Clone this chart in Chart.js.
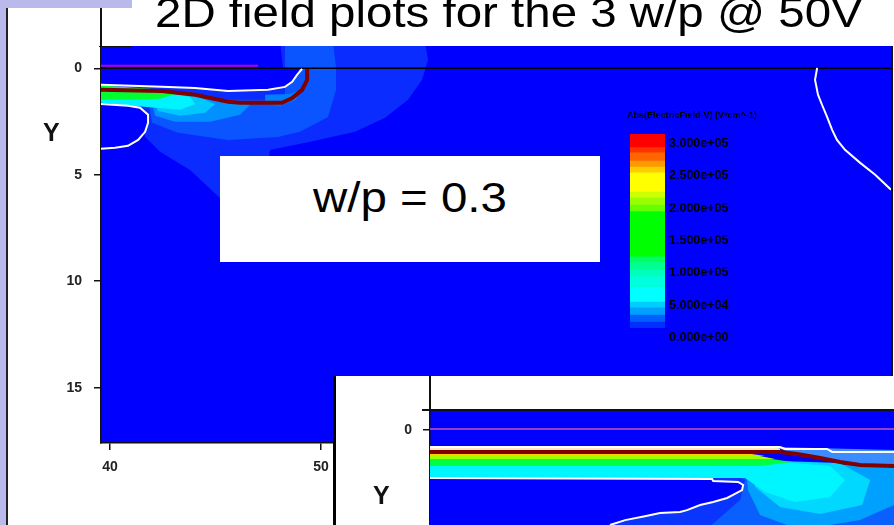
<!DOCTYPE html>
<html>
<head>
<meta charset="utf-8">
<script src="https://cdn.jsdelivr.net/npm/chart.js@4.4.0/dist/chart.umd.min.js"></script>
<style>
  html, body { margin: 0; padding: 0; background: #fff; }
  body { width: 894px; height: 525px; position: relative; overflow: hidden; font-family: "Liberation Sans", Arial, sans-serif; }
  .abs { position: absolute; }
  .big { font-size: 42px; line-height: 42px; color: #000; white-space: nowrap; transform: scaleX(1.13); transform-origin: left top; }
  .ylab { font-size: 25px; line-height: 25px; font-weight: bold; color: #111; }
  .cblab { font-size: 12.5px; line-height: 14px; color: #000; font-weight: bold; white-space: nowrap; }
</style>
</head>
<body>
<!-- slide frame -->
<div class="abs" style="left:0;top:0;width:6px;height:525px;background:#b9b9eb"></div>
<div class="abs" style="left:0;top:0;width:132px;height:8px;background:#b9b9eb"></div>
<div class="abs" style="left:6px;top:8px;width:1.5px;height:517px;background:#222"></div>

<canvas id="main" class="abs" width="894" height="525" style="left:0;top:0"></canvas>
<div class="abs" style="left:100.3px;top:8px;width:1.5px;height:39px;background:#111"></div>
<div class="abs" style="left:99px;top:45.5px;width:33px;height:1.5px;background:#111"></div>
<div class="abs" style="left:891px;top:46px;width:2px;height:330px;background:#111"></div>

<div class="abs big" style="left:155px;top:-8px">2D field plots for the 3 w/p @ 50V</div>
<div class="abs ylab" style="left:43px;top:120px">Y</div>

<div class="abs" style="left:220px;top:156px;width:380px;height:106px;background:#fff"></div>
<div class="abs big" style="left:313px;top:177px">w/p = 0.3</div>

<div class="abs" style="left:627px;top:110px;font-size:9px;line-height:10px;font-weight:bold;color:#000;white-space:nowrap">Abs(ElectricField-V) (V*cm^-1)</div>
<canvas id="cb" class="abs" width="35" height="194" style="left:630px;top:134px"></canvas>
<div id="cblabels"></div>

<div class="abs" style="left:333px;top:376px;width:561px;height:149px;background:#fff"></div>
<div class="abs" style="left:333px;top:376px;width:3px;height:149px;background:#000"></div>
<canvas id="inset" class="abs" width="558" height="149" style="left:336px;top:376px"></canvas>
<div class="abs" style="left:429.3px;top:376px;width:1.5px;height:35px;background:#111"></div>
<div class="abs" style="left:422px;top:409.3px;width:472px;height:1.5px;background:#111"></div>
<div class="abs ylab" style="left:373px;top:483px">Y</div>

<script>
// ---------- axes ----------
const xTicks = [40, 50];
const yTicks = [0, 5, 10, 15];
const insetYTicks = [0];

// ---------- colour scale ----------
const blue = '#0000ff';
const cbEdges = [14000, 23000, 34000, 45000, 54000, 77000, 93000, 104000, 115000, 124000,
                 194000, 204000, 215000, 224000, 254000, 263000, 272000, 285000, 293000, 314000];
const cbColors = ['#0030ff', '#0060ff', '#00a0ff', '#00ccff', '#00ffff', '#00ffdd', '#00ffbb', '#00ff90', '#00ff60',
                  '#00ff00', '#66ff00', '#99ff00', '#ccff00', '#ffff00', '#ffcc00', '#ff9900', '#ff6600', '#ff3300', '#ff0000'];
const cbTickValues = [300000, 250000, 200000, 150000, 100000, 50000, 0];
const cbTickLabels = ['3.000e+05', '2.500e+05', '2.000e+05', '1.500e+05', '1.000e+05', '5.000e+04', '0.000e+00'];

// ---------- w/p = 0.3 plot ----------
const surfaceX = [39.57, 47.01];
const surfaceY = [-0.12, -0.12];
const zeroX = [39.57, 77.01];
const zeroY = [0, 0];
const junctionX = [39.57, 42.46, 44.03, 45.59, 46.16, 48.15, 48.63, 49.1, 49.34, 49.34];
const junctionY = [1.01, 1.06, 1.24, 1.57, 1.62, 1.62, 1.39, 1.01, 0.54, 0.02];
const depTopX = [39.57, 42.46, 44.03, 45.59, 47.49, 48.29, 48.63, 48.86, 49.1];
const depTopY = [0.77, 0.87, 0.92, 1.06, 1.01, 0.87, 0.63, 0.31, 0.02];
const depBulbX = [39.57, 40.85, 41.42, 41.8, 41.8, 41.66, 41.33, 40.85, 40.24, 39.57];
const depBulbY = [1.67, 1.76, 1.85, 2.18, 2.56, 2.98, 3.36, 3.64, 3.73, 3.78];
const depRightX = [73.51, 73.41, 73.55, 73.74, 73.98, 74.22, 74.45, 74.83, 75.55, 76.26, 77.01];
const depRightY = [-0.02, 0.54, 1.24, 1.71, 2.28, 2.89, 3.36, 3.83, 4.44, 5.0, 5.7];

const halo1X = [48.06, 54.93, 55.07, 54.79, 54.12, 53.03, 51.61, 49.48, 47.58, 47.11, 45.31, 43.79, 42.37, 41.66, 41.52, 39.57, 39.57, 48.06];
const halo1Y = [-1.2, -1.2, -0.4, 0.54, 1.48, 2.32, 2.98, 3.45, 3.83, 7.11, 6.18, 4.77, 3.92, 3.22, 2.04, 1.67, 0.77, -0.02];
const halo2X = [48.29, 50.57, 50.71, 50.71, 50.33, 49.0, 47.96, 45.59, 43.22, 41.99, 41.8, 48.29];
const halo2Y = [-1.2, -1.2, -0.02, 1.01, 2.28, 2.98, 3.22, 3.36, 3.03, 2.56, 1.48, 1.48];
const halo3X = [41.9, 44.98, 46.64, 46.16, 44.74, 43.08, 42.13];
const halo3Y = [1.24, 1.38, 1.71, 2.18, 2.51, 2.51, 2.23];
const cornerX = [47.35, 48.53, 49.0, 48.82, 48.06, 47.35];
const cornerY = [1.24, 1.2, 1.01, 1.48, 1.76, 1.67];
const halo4X = [41.9, 44.03, 44.98, 44.5, 43.32, 42.27];
const halo4Y = [1.15, 1.29, 1.67, 2.09, 2.23, 2.0];
const cyanX = [39.57, 42.37, 43.79, 44.03, 43.32, 42.13, 39.57];
const cyanY = [1.1, 1.1, 1.34, 1.67, 1.95, 1.85, 1.62];
const greenX = [39.57, 41.9, 43.08, 42.37, 40.95, 39.57];
const greenY = [0.8, 0.96, 1.2, 1.43, 1.48, 1.48];
const quietTopX = [39.57, 48.06, 48.2, 49.0, 48.86, 48.63, 48.29, 47.49, 45.59, 44.03, 42.46, 39.57];
const quietTopY = [-1.2, -1.2, -0.02, -0.02, 0.31, 0.63, 0.87, 1.01, 1.06, 0.92, 0.87, 0.77];

// ---------- inset plot ----------
const inSurfaceX = [39.57, 61.56];
const inSurfaceY = [-0.05, -0.05];
const inDepTopX = [39.57, 56.16, 56.4, 58.39, 58.63, 61.56];
const inDepTopY = [0.8, 0.8, 0.89, 0.89, 1.03, 1.03];
const inJunctionX = [39.57, 56.16, 56.97, 58.06, 59.0, 59.95, 61.56];
const inJunctionY = [1.03, 1.03, 1.13, 1.31, 1.5, 1.64, 1.69];
const inDepLowX = [39.57, 52.94, 52.99, 54.17, 54.41, 54.36, 53.93, 53.65, 52.99, 52.37, 51.75, 51.42, 50.47, 49.81, 48.82, 48.1];
const inDepLowY = [2.25, 2.3, 2.39, 2.44, 2.58, 2.82, 3.05, 3.19, 3.38, 3.52, 3.76, 3.85, 3.9, 4.04, 4.23, 4.46];
const inBulbEndX = [47.5, 39.0, 39.0];
const inBulbEndY = [4.8, 4.8, 2.25];

const inHalo1X = [52.37, 61.56, 61.56, 45.73, 45.73];
const inHalo1Y = [1.69, 1.69, 4.93, 4.93, 1.88];
const inHalo2X = [53.08, 61.56, 61.56, 52.37, 54.27, 54.5];
const inHalo2Y = [1.69, 1.69, 4.93, 4.93, 3.29, 2.35];
const inHalo3X = [54.5, 61.56, 61.56, 59.95, 57.11, 55.21, 54.64];
const inHalo3Y = [1.5, 1.69, 3.52, 4.23, 4.69, 3.99, 2.82];
const inHalo4X = [54.74, 59.0, 60.43, 60.05, 58.06, 56.16, 54.98];
const inHalo4Y = [1.41, 1.55, 2.35, 3.52, 3.94, 3.62, 2.68];
const inCyanX = [39.57, 56.16, 58.53, 59.24, 58.53, 56.87, 55.45, 54.5, 39.57];
const inCyanY = [1.55, 1.5, 1.69, 2.35, 3.15, 3.38, 2.91, 2.25, 2.25];
const inGreenX = [39.57, 55.45, 56.73, 55.21, 39.57];
const inGreenY = [1.31, 1.31, 1.5, 1.69, 1.69];
const inLimeX = [39.57, 55.21, 55.92, 39.57];
const inLimeY = [1.22, 1.22, 1.36, 1.36];
const inYellowX = [39.57, 54.5, 55.45, 39.57];
const inYellowY = [1.08, 1.08, 1.22, 1.22];
const inPaleX = [39.57, 56.16, 56.16, 39.57];
const inPaleY = [0.8, 0.8, 1.08, 1.08];
const inGapX = [55.92, 61.56, 61.56, 59.0, 56.97];
const inGapY = [0.8, 0.94, 1.78, 1.55, 1.17];

const toPts = (xs, ys) => xs.map((x, i) => ({ x: x, y: ys[i] }));

function area(xs, ys, color) {
  return { data: toPts(xs, ys), showLine: true, fill: 'shape', backgroundColor: color,
           borderColor: 'rgba(0,0,0,0)', borderWidth: 0, pointRadius: 0, tension: 0, clip: 0 };
}
function curve(xs, ys, color, w) {
  return { data: toPts(xs, ys), showLine: true, fill: false, borderColor: color,
           borderWidth: w, pointRadius: 0, tension: 0, clip: 0 };
}

// paint the plot area in the "zero field" colour
const fieldBg = {
  id: 'fieldBg',
  beforeDraw(chart) {
    const a = chart.chartArea, ctx = chart.ctx;
    ctx.save();
    ctx.fillStyle = blue;
    ctx.fillRect(a.left, a.top, a.right - a.left, a.bottom - a.top);
    ctx.restore();
  }
};

const tickFont = { family: 'Liberation Sans', size: 14, weight: 'bold' };
const gridStyle = { drawOnChartArea: false, drawTicks: true, tickLength: 7, color: '#111', lineWidth: 1.5 };
const borderStyle = { color: '#111', width: 1.5 };

// layers listed back to front, chart.js draws dataset 0 on top so reverse
const mainLayers = [
  area(halo1X, halo1Y, '#0a2cff'),
  area(halo2X, halo2Y, '#0a55ff'),
  area(halo3X, halo3Y, '#0090ff'),
  area(cornerX, cornerY, '#0080ff'),
  area(halo4X, halo4Y, '#00c8ff'),
  area(cyanX, cyanY, '#00f4ff'),
  area(greenX, greenY, '#00ff30'),
  area(quietTopX, quietTopY, blue),
  area(depBulbX, depBulbY, blue),
  curve(surfaceX, surfaceY, '#c000c0', 2),
  curve(zeroX, zeroY, '#000', 1.5),
  curve(junctionX, junctionY, '#800000', 4),
  curve(depTopX, depTopY, '#fff', 2),
  curve(depBulbX, depBulbY, '#fff', 2),
  curve(depRightX, depRightY, '#fff', 2)
].reverse();

new Chart(document.getElementById('main'), {
  type: 'scatter',
  data: { datasets: mainLayers },
  options: {
    responsive: false, animation: false, events: [],
    layout: { padding: { top: 46, right: 3, left: 0, bottom: 0 } },
    plugins: { legend: { display: false }, tooltip: { enabled: false } },
    scales: {
      x: {
        type: 'linear', min: 39.57, max: 77.01,
        afterBuildTicks: s => { s.ticks = xTicks.map(v => ({ value: v })); },
        afterFit: s => { s.height = 82; },
        grid: gridStyle, border: borderStyle,
        ticks: { color: '#222', padding: 9, font: tickFont, maxRotation: 0 }
      },
      y: {
        type: 'linear', reverse: true, min: -1.05, max: 17.6,
        afterBuildTicks: s => { s.ticks = yTicks.map(v => ({ value: v })); },
        afterFit: s => { s.width = 101; },
        grid: gridStyle, border: borderStyle,
        ticks: { color: '#222', padding: 12, font: tickFont }
      }
    }
  },
  plugins: [fieldBg]
});

const insetLayers = [
  area(inHalo1X, inHalo1Y, '#0a35ff'),
  area(inHalo2X, inHalo2Y, '#0a60ff'),
  area(inHalo3X, inHalo3Y, '#00a0ff'),
  area(inHalo4X, inHalo4Y, '#00d8ff'),
  area(inCyanX, inCyanY, '#00f6ff'),
  area(inGreenX, inGreenY, '#00ff40'),
  area(inLimeX, inLimeY, '#a0ff00'),
  area(inYellowX, inYellowY, '#ffd000'),
  area(inPaleX, inPaleY, '#ffe8c8'),
  area(inGapX, inGapY, '#3a8cff'),
  area(inDepLowX.concat(inBulbEndX), inDepLowY.concat(inBulbEndY), blue),
  curve(inSurfaceX, inSurfaceY, '#9040c0', 2),
  curve(inJunctionX, inJunctionY, '#800000', 4),
  curve(inDepTopX, inDepTopY, '#fff', 2),
  curve(inDepLowX, inDepLowY, '#fff', 2)
].reverse();

new Chart(document.getElementById('inset'), {
  type: 'scatter',
  data: { datasets: insetLayers },
  options: {
    responsive: false, animation: false, events: [],
    layout: { padding: { top: 34, right: 0, left: 0, bottom: 0 } },
    plugins: { legend: { display: false }, tooltip: { enabled: false } },
    scales: {
      x: { type: 'linear', min: 39.57, max: 61.56, display: false },
      y: {
        type: 'linear', reverse: true, min: -0.94, max: 4.46,
        afterBuildTicks: s => { s.ticks = insetYTicks.map(v => ({ value: v })); },
        // plot runs off the bottom of the slide, so no room kept for labels
        afterFit: s => { s.width = 94; s.paddingTop = 0; s.paddingBottom = 0; },
        grid: gridStyle, border: borderStyle,
        ticks: { color: '#222', padding: 11, font: tickFont }
      }
    }
  },
  plugins: [fieldBg]
});

// colour bar legend
const cbChart = new Chart(document.getElementById('cb'), {
  type: 'bar',
  data: {
    labels: [''],
    datasets: cbColors.map((c, i) => ({
      data: [[cbEdges[i], cbEdges[i + 1]]], backgroundColor: c, borderWidth: 0,
      barPercentage: 1, categoryPercentage: 1, grouped: false
    }))
  },
  options: {
    responsive: false, animation: false, events: [],
    layout: { padding: 0 },
    plugins: { legend: { display: false }, tooltip: { enabled: false } },
    scales: {
      x: { display: false },
      y: { display: false, min: cbEdges[0], max: cbEdges[cbEdges.length - 1] }
    }
  }
});

const holder = document.getElementById('cblabels');
cbTickValues.forEach((v, i) => {
  const d = document.createElement('div');
  d.className = 'abs cblab';
  d.style.left = '669px';
  d.style.top = (134 + cbChart.scales.y.getPixelForValue(v) - 7) + 'px';
  d.textContent = cbTickLabels[i];
  holder.appendChild(d);
});
</script>
</body>
</html>
